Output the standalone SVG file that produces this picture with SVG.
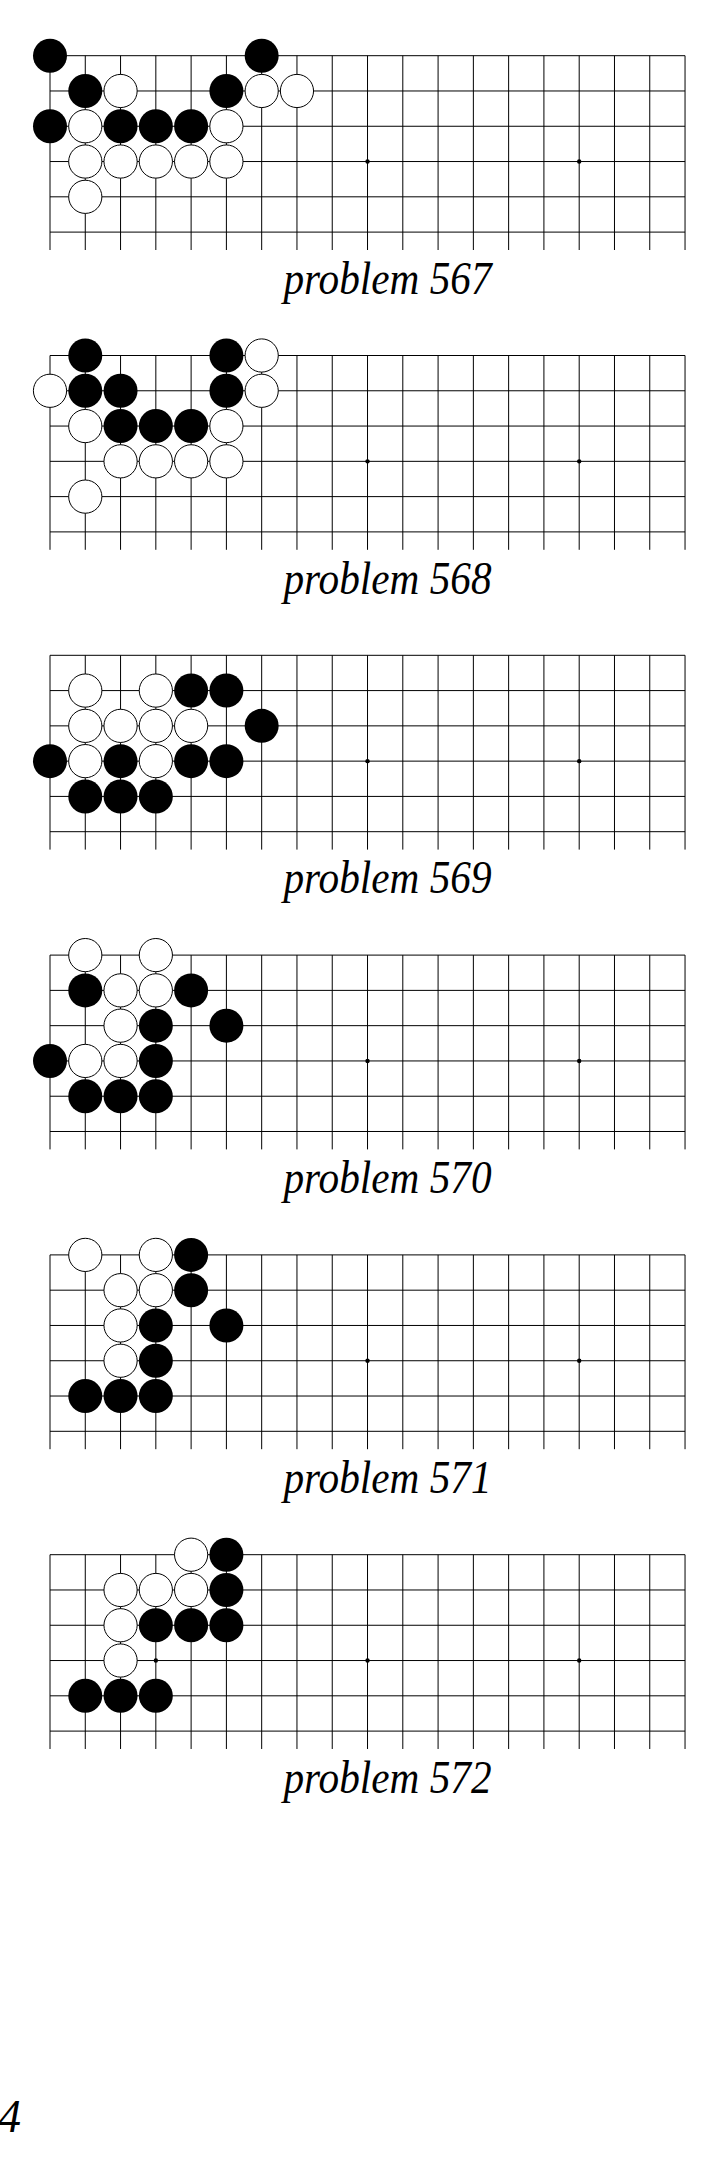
<svg xmlns="http://www.w3.org/2000/svg" xmlns:xlink="http://www.w3.org/1999/xlink" width="725" height="2181" viewBox="0 0 725 2181">
<style>
.grid{fill:none;stroke:#000;stroke-width:1}
.cap{font-family:"Liberation Serif","Times New Roman",serif;font-style:italic;font-size:46px;fill:#000}
</style>
<defs>
<path id="grid" class="grid" d="M0 0V194.3M35.28 0V194.3M70.56 0V194.3M105.84 0V194.3M141.12 0V194.3M176.4 0V194.3M211.68 0V194.3M246.96 0V194.3M282.24 0V194.3M317.52 0V194.3M352.8 0V194.3M388.08 0V194.3M423.36 0V194.3M458.64 0V194.3M493.92 0V194.3M529.2 0V194.3M564.48 0V194.3M599.76 0V194.3M635.04 0V194.3M0 0H635.04M0 35.28H635.04M0 70.56H635.04M0 105.84H635.04M0 141.12H635.04M0 176.4H635.04"/>
<g id="stars"><circle cx="105.84" cy="105.84" r="2.2" fill="#000"/><circle cx="317.52" cy="105.84" r="2.2" fill="#000"/><circle cx="529.2" cy="105.84" r="2.2" fill="#000"/></g>
<circle id="B" r="17" fill="#000"/>
<circle id="W" r="16.6" fill="#fff" stroke="#000" stroke-width="1"/>
</defs>
<rect width="725" height="2181" fill="#fff"/>

<g id="board567" transform="translate(50,55.7)">
<use href="#grid"/><use href="#stars"/>
<use href="#B" x="0" y="0"/><use href="#B" x="211.68" y="0"/>
<use href="#B" x="35.28" y="35.28"/><use href="#W" x="70.56" y="35.28"/><use href="#B" x="176.4" y="35.28"/><use href="#W" x="211.68" y="35.28"/><use href="#W" x="246.96" y="35.28"/>
<use href="#B" x="0" y="70.56"/><use href="#W" x="35.28" y="70.56"/><use href="#B" x="70.56" y="70.56"/><use href="#B" x="105.84" y="70.56"/><use href="#B" x="141.12" y="70.56"/><use href="#W" x="176.4" y="70.56"/>
<use href="#W" x="35.28" y="105.84"/><use href="#W" x="70.56" y="105.84"/><use href="#W" x="105.84" y="105.84"/><use href="#W" x="141.12" y="105.84"/><use href="#W" x="176.4" y="105.84"/>
<use href="#W" x="35.28" y="141.12"/>
</g>
<text class="cap" x="283.5" y="293.7" textLength="208" lengthAdjust="spacingAndGlyphs">problem 567</text>

<g id="board568" transform="translate(50,355.5)">
<use href="#grid"/><use href="#stars"/>
<use href="#B" x="35.28" y="0"/><use href="#B" x="176.4" y="0"/><use href="#W" x="211.68" y="0"/>
<use href="#W" x="0" y="35.28"/><use href="#B" x="35.28" y="35.28"/><use href="#B" x="70.56" y="35.28"/><use href="#B" x="176.4" y="35.28"/><use href="#W" x="211.68" y="35.28"/>
<use href="#W" x="35.28" y="70.56"/><use href="#B" x="70.56" y="70.56"/><use href="#B" x="105.84" y="70.56"/><use href="#B" x="141.12" y="70.56"/><use href="#W" x="176.4" y="70.56"/>
<use href="#W" x="70.56" y="105.84"/><use href="#W" x="105.84" y="105.84"/><use href="#W" x="141.12" y="105.84"/><use href="#W" x="176.4" y="105.84"/>
<use href="#W" x="35.28" y="141.12"/>
</g>
<text class="cap" x="283.5" y="593.5" textLength="208" lengthAdjust="spacingAndGlyphs">problem 568</text>

<g id="board569" transform="translate(50,655.3)">
<use href="#grid"/><use href="#stars"/>
<use href="#W" x="35.28" y="35.28"/><use href="#W" x="105.84" y="35.28"/><use href="#B" x="141.12" y="35.28"/><use href="#B" x="176.4" y="35.28"/>
<use href="#W" x="35.28" y="70.56"/><use href="#W" x="70.56" y="70.56"/><use href="#W" x="105.84" y="70.56"/><use href="#W" x="141.12" y="70.56"/><use href="#B" x="211.68" y="70.56"/>
<use href="#B" x="0" y="105.84"/><use href="#W" x="35.28" y="105.84"/><use href="#B" x="70.56" y="105.84"/><use href="#W" x="105.84" y="105.84"/><use href="#B" x="141.12" y="105.84"/><use href="#B" x="176.4" y="105.84"/>
<use href="#B" x="35.28" y="141.12"/><use href="#B" x="70.56" y="141.12"/><use href="#B" x="105.84" y="141.12"/>
</g>
<text class="cap" x="283.5" y="893.3" textLength="208" lengthAdjust="spacingAndGlyphs">problem 569</text>

<g id="board570" transform="translate(50,955.1)">
<use href="#grid"/><use href="#stars"/>
<use href="#W" x="35.28" y="0"/><use href="#W" x="105.84" y="0"/>
<use href="#B" x="35.28" y="35.28"/><use href="#W" x="70.56" y="35.28"/><use href="#W" x="105.84" y="35.28"/><use href="#B" x="141.12" y="35.28"/>
<use href="#W" x="70.56" y="70.56"/><use href="#B" x="105.84" y="70.56"/><use href="#B" x="176.4" y="70.56"/>
<use href="#B" x="0" y="105.84"/><use href="#W" x="35.28" y="105.84"/><use href="#W" x="70.56" y="105.84"/><use href="#B" x="105.84" y="105.84"/>
<use href="#B" x="35.28" y="141.12"/><use href="#B" x="70.56" y="141.12"/><use href="#B" x="105.84" y="141.12"/>
</g>
<text class="cap" x="283.5" y="1193.1" textLength="208" lengthAdjust="spacingAndGlyphs">problem 570</text>

<g id="board571" transform="translate(50,1254.9)">
<use href="#grid"/><use href="#stars"/>
<use href="#W" x="35.28" y="0"/><use href="#W" x="105.84" y="0"/><use href="#B" x="141.12" y="0"/>
<use href="#W" x="70.56" y="35.28"/><use href="#W" x="105.84" y="35.28"/><use href="#B" x="141.12" y="35.28"/>
<use href="#W" x="70.56" y="70.56"/><use href="#B" x="105.84" y="70.56"/><use href="#B" x="176.4" y="70.56"/>
<use href="#W" x="70.56" y="105.84"/><use href="#B" x="105.84" y="105.84"/>
<use href="#B" x="35.28" y="141.12"/><use href="#B" x="70.56" y="141.12"/><use href="#B" x="105.84" y="141.12"/>
</g>
<text class="cap" x="283.5" y="1492.9" textLength="208" lengthAdjust="spacingAndGlyphs">problem 571</text>

<g id="board572" transform="translate(50,1554.7)">
<use href="#grid"/><use href="#stars"/>
<use href="#W" x="141.12" y="0"/><use href="#B" x="176.4" y="0"/>
<use href="#W" x="70.56" y="35.28"/><use href="#W" x="105.84" y="35.28"/><use href="#W" x="141.12" y="35.28"/><use href="#B" x="176.4" y="35.28"/>
<use href="#W" x="70.56" y="70.56"/><use href="#B" x="105.84" y="70.56"/><use href="#B" x="141.12" y="70.56"/><use href="#B" x="176.4" y="70.56"/>
<use href="#W" x="70.56" y="105.84"/>
<use href="#B" x="35.28" y="141.12"/><use href="#B" x="70.56" y="141.12"/><use href="#B" x="105.84" y="141.12"/>
</g>
<text class="cap" x="283.5" y="1792.7" textLength="208" lengthAdjust="spacingAndGlyphs">problem 572</text>

<text class="cap" x="-2" y="2131.7" font-size="44">4</text>
</svg>
